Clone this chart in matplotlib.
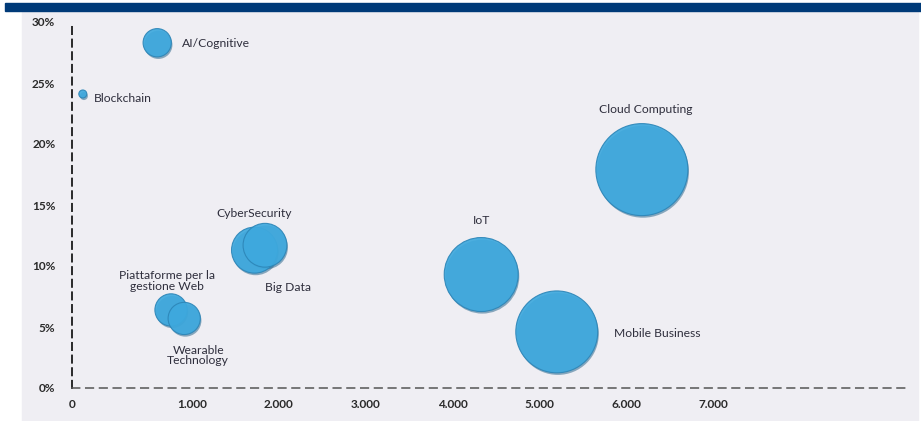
import numpy as np
import matplotlib
matplotlib.use("Agg")
import matplotlib.pyplot as plt
from matplotlib.patches import Rectangle
import matplotlib.patheffects as pe

plt.rcParams['font.family'] = ['Lato', 'DejaVu Sans']

# data
names = ['AI/Cognitive', 'Blockchain', 'Cloud Computing', 'IoT', 'Mobile Business',
         'CyberSecurity', 'Big Data', 'Piattaforme per la\ngestione Web', 'Wearable\nTechnology']
spend = [710, 90, 6180, 4330, 5200, 1720, 1840, 825, 935]
growth = [0.283, 0.241, 0.179, 0.093, 0.046, 0.113, 0.117, 0.064, 0.057]
weight = [20, 1.6, 212, 137, 168, 53, 48, 26, 26]

xticks = [0, 1000, 2000, 3000, 4000, 5000, 6000, 7000]
xticklabels = ['0', '1.000', '2.000', '3.000', '4.000', '5.000', '6.000', '7.000']
yticks = [0, 0.05, 0.10, 0.15, 0.20, 0.25, 0.30]
yticklabels = ['0%', '5%', '10%', '15%', '20%', '25%', '30%']

# label offsets in pixels from bubble centre, with alignment
label_pos = [(25, -1, 'left'), (11, -5, 'left'), (4, 60, 'center'), (0, 54, 'center'),
             (57, -2, 'left'), (0, 37, 'center'), (0, -42, 'left'), (-4, 29, 'center'),
             (14, -37, 'center')]

# first thousand is drawn wider than the rest in the original
stretch = 1.382
def fwd(x):
    x = np.asarray(x, dtype=float)
    return np.where(x < 1000, x * stretch, 1000 * stretch + (x - 1000))
def inv(u):
    u = np.asarray(u, dtype=float)
    return np.where(u < 1000 * stretch, u / stretch, u - 1000 * stretch + 1000)

fig = plt.figure(figsize=(9.21, 4.21), dpi=100)
fig.patches.append(Rectangle((22 / 921, 0), (918 - 22) / 921, (421 - 12) / 421,
                             transform=fig.transFigure, color='#efeef3', zorder=-2))
fig.patches.append(Rectangle((5 / 921, (421 - 11) / 421), 916 / 921, 8 / 421,
                             transform=fig.transFigure, color='#003a78', zorder=-1))

ax = fig.add_axes([72 / 921, 33 / 421, (905 - 72) / 921, (388 - 22) / 421])
ax.set_facecolor('none')
ax.set_xscale('function', functions=(fwd, inv))
ax.set_xlim(0, 9210)
ax.set_ylim(0, 0.30)

sizes = [w * 20.7 for w in weight]
sc = ax.scatter(spend, growth, s=sizes, color='#3ea9de', edgecolor='#2d86b8',
                linewidth=0.8, alpha=0.92, zorder=3, clip_on=False)
sc.set_path_effects([pe.SimplePatchShadow(offset=(0.8, -1.5), shadow_rgbFace='#1f5f86',
                                          alpha=0.5), pe.Normal()])

for name, x, y, (dx, dy, ha) in zip(names, spend, growth, label_pos):
    ax.annotate(name, (x, y), xytext=(dx, dy), textcoords='offset pixels',
                ha=ha, va='center', fontsize=8.7, color='#2e2e3c',
                linespacing=0.95, zorder=4)

ax.set_xticks(xticks)
ax.set_xticklabels(xticklabels)
ax.set_yticks(yticks)
ax.set_yticklabels(yticklabels)
ax.minorticks_off()
ax.tick_params(length=0, labelsize=8.5, labelcolor='#2a2a2a')
ax.tick_params(axis='y', pad=12)
ax.tick_params(axis='x', pad=8)
for t in ax.get_xticklabels() + ax.get_yticklabels():
    t.set_fontweight('bold')

for s in ['top', 'right']:
    ax.spines[s].set_visible(False)
ax.spines['left'].set_linestyle((0, (4, 3)))
ax.spines['left'].set_linewidth(1.3)
ax.spines['left'].set_color('#1a1a1a')
ax.spines['bottom'].set_linestyle((0, (5, 4)))
ax.spines['bottom'].set_linewidth(1.1)
ax.spines['bottom'].set_color('#555555')

fig.savefig('out.png', dpi=100)
